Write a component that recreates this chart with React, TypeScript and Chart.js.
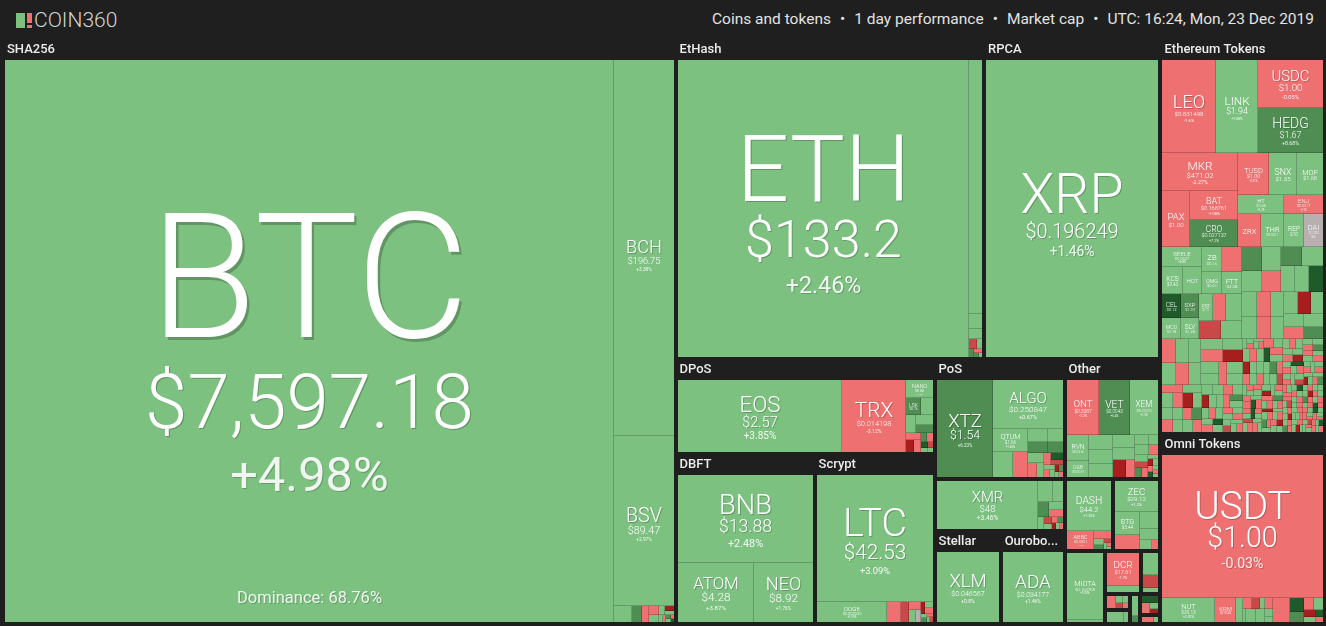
import React, { useEffect, useRef } from 'react';
import { Chart, registerables } from 'chart.js';

Chart.register(...registerables);

type Cell = [string, number, string, number];
type Rect = { x0: number; y0: number; x1: number; y1: number };
type Tree = string | Tree[];

const BG = '#1e1f1e';
const FONT = 'Roboto, "Open Sans", "DejaVu Sans", sans-serif';
const CANVAS_W = 1326;
const CANVAS_H = 587;
const TOP_H = 39;

const headerParts = ['Coins and tokens', '1 day performance', 'Market cap', 'UTC: 16:24, Mon, 23 Dec 2019'];
const btcDominance = 'Dominance: 68.76%';

// ---------- groups (algorithms / platforms) ----------
const groupNames = ['SHA256', 'EtHash', 'RPCA', 'Ethereum Tokens', 'Omni Tokens', 'DPoS', 'DBFT', 'Scrypt', 'PoS', 'Other', 'CryptoNight', 'Stellar', 'Ouroboros', 'X11', 'Equihash', 'Tangle', 'Blake256', 'Blake2b', 'Groestl', 'Keccak', 'NeoScrypt', 'Lyra2', 'X13'];
const groupSizes = [393412, 98720, 56480, 64895, 31337, 24605, 23630, 20400, 15600, 11520, 6760, 6138, 5952, 3492, 3420, 2920, 1548, 838, 400, 304, 184, 350, 427];

// ---------- coins: [symbol, size, price, 24h change %] ----------
const sha256Cells: Cell[] = [
  ['BTC', 342000, '$7,597.18', 4.98],
  ['BCH', 22300, '$196.75', 3.38],
  ['BSV', 10100, '$89.47', 2.97],
];
const sha256TinySizes = [300, 160, 120, 90, 70, 55, 45, 35, 28, 22, 18, 14, 10, 8];
const sha256TinyChanges = [2, 7, -3, -1, 1, 3, -11, 1, 2, -2, 6, 1, -4, 12];

const ethashCells: Cell[] = [
  ['ETH', 86700, '$133.2', 2.46],
  ['ETC', 3175, '$4.42', 1.5],
];
const ethashTinySizes = [190, 125, 75, 50, 40, 30, 20, 12];
const ethashTinyChanges = [1, 1, -9, 2, 6, -1, 8, 1];

const rpcaCells: Cell[] = [['XRP', 50600, '$0.196249', 1.46]];

const ethTokenCells: Cell[] = [
  ['LEO', 4836, '$0.831498', -1.6],
  ['LINK', 3813, '$1.94', 1.08],
  ['USDC', 3072, '$1.00', -0.05],
  ['HEDG', 2880, '$1.67', 8.68],
  ['MKR', 2775, '$471.02', -2.27],
  ['PAX', 1512, '$1.00', -0.12],
  ['BAT', 1334, '$0.168761', -1.08],
  ['CRO', 1265, '$0.027137', 7.2],
  ['TUSD', 1255, '$1.00', -0.21],
  ['SNX', 1176, '$1.35', 1.52],
  ['MOF', 1050, '$1.68', 0.52],
  ['HT', 855, '$3.68', 1.2],
  ['ZRX', 741, '$0.189324', -1.86],
  ['THR', 736, '$0.0211', 0.35],
  ['ENJ', 704, '$0.0317', -2.1],
  ['REP', 640, '$10', 0.9],
  ['DAI', 608, '$1.00', 0],
  ['SEELE', 770, '$0.0227', 0.8],
  ['KCS', 528, '$0.43', 0.6],
  ['HOT', 506, '$0.0006', 1.1],
  ['ZB', 504, '$0.16', 1.3],
  ['THETA', 483, '$0.087', -2.4],
  ['OMG', 450, '$0.61', 1.5],
  ['FTT', 425, '$2.28', 0.9],
  ['CEL', 432, '$0.12', 14.2],
  ['SXP', 408, '$1.34', 6.5],
  ['MCO', 374, '$3.18', 1.4],
  ['SLV', 357, '$1.28', 0.6],
  ['PST', 360, '$1.71', 2.1],
  ['EKT', 340, '$0.01', -3.4],
  ['', 405, '', 1.2],
  ['', 378, '', -8],
  ['', 378, '', 0.7],
];
const ethMidSizes = [470, 430, 420, 400, 390, 380, 370, 360, 350, 340, 330, 320, 310, 300, 290, 280, 270, 260, 250, 240, 230, 220];
const ethMidChanges = [6, 1, 2, -2, 7, 1, 1, 2, 12, 1, -1, 2, 1, -3, 1, 1, -12, 2, 1, -2, 1, 7];
const ethMosaicASizes = [330, 310, 290, 280, 270, 260, 250, 240, 230, 220, 210, 200, 190, 180, 170, 160];
const ethMosaicAChanges = [-2, 1, 1, 2, -1, 1, 1, -2, 1, -11, 1, 1, -2, 2, 1, -1];
const ethMosaicBSizes = [150, 145, 140, 135, 130, 125, 120, 118, 115, 112, 110, 108, 105, 102, 100, 98, 95, 92, 90, 88, 85, 82, 80, 78, 75, 72, 70, 68, 65, 62, 60, 58, 55, 52, 50, 48, 46, 44, 42, 40, 38, 36, 34, 32, 30];
const ethMosaicBChanges = [1, -2, 1, -11, 2, 1, 1, -1, 1, -2, 7, 1, -1, 1, 2, -12, 1, 1, -2, 1, -1, 6, 1, 1, -2, 1, 1, -1, 13, 1, -2, 1, 1, -1, 2, -7, 1, 1, -1, 1, 2, -2, 1, 1, -1];
const ethMosaicCSizes = [95, 93, 91, 90, 88, 86, 85, 83, 82, 80, 79, 78, 76, 75, 74, 72, 71, 70, 69, 68, 67, 66, 65, 64, 63, 62, 61, 60, 59, 58, 57, 56, 55, 54, 53, 52, 51, 50, 49, 48, 47, 46, 45, 44, 44, 43, 43, 42, 42, 41, 41, 40, 40, 39, 39, 38, 38, 37, 36, 35];
const ethMosaicCChanges = [1, -1, 2, -2, 1, 12, -1, 1, -12, 1, 2, -1, 1, -2, 1, 7, -1, 1, 1, -6, 1, -2, 1, 2, -1, 1, -11, 1, -2, 1, 6, -1, 1, 2, -2, 1, -1, 13, 1, -2, 1, -1, 2, 1, -8, 1, -1, 1, 2, -2, 1, -12, 1, 1, -1, 7, 1, -2, 1, -1];
const ethMosaicDSizes = [
  52, 51, 50, 49, 48, 47, 46, 46, 45, 45,
  44, 44, 43, 43, 42, 42, 41, 41, 40, 40,
  40, 39, 39, 39, 38, 38, 38, 37, 37, 37,
  36, 36, 36, 35, 35, 35, 35, 34, 34, 34,
  34, 33, 33, 33, 33, 32, 32, 32, 32, 31,
  31, 31, 31, 30, 30, 30, 30, 30, 29, 29,
  29, 29, 29, 28, 28, 28, 28, 28, 27, 27,
  27, 27, 27, 26, 26, 26, 26, 26, 25, 25,
  25, 25, 25, 24, 24, 24, 24, 24, 23, 23,
  23, 23, 23, 22, 22, 22, 22, 22, 21, 21,
  21, 21, 21, 20, 20, 20, 20, 20, 20, 20,
];
const ethMosaicDChanges = [
  1, -1, -2, 1, 12, -1, 1, -12, 2, -1,
  1, -2, 1, -1, 7, 1, -1, -2, 1, 13,
  -1, 1, -8, 1, -1, 2, -1, 1, -12, 1,
  -2, 1, 1, -1, 6, -1, 1, -2, -11, 1,
  1, -1, 2, -1, 1, 12, -2, 1, -1, 1,
  -7, 1, -1, 2, -1, 1, -2, 1, -12, 1,
  1, -1, 1, 8, -1, 1, -2, 1, -1, 13,
  -1, 1, -2, 1, -11, 1, -1, 2, 1, -1,
  1, -2, 7, -1, 1, -1, 1, -12, 1, -2,
  1, -1, 2, -1, 12, 1, -2, 1, -1, 1,
  -8, 1, -1, 1, -2, 1, 13, -1, 1, -1,
];

const omniCells: Cell[] = [
  ['USDT', 23030, '$1.00', -0.03],
  ['NUT', 1250, '$26.13', 2.02],
  ['KRM', 520, '$0.0028', -1.5],
];
const omniTinySizes = [150, 110, 80, 60, 40, 130, 110, 90, 60, 40, 400, 200, 150, 120, 100, 80, 60, 50, 40];
const omniTinyChanges = [1, -1, -8, 2, 1, 1, 2, -2, 1, 1, -1.5, 11, 8, -3, 1, -12, 2, 13, -1];

const dposCells: Cell[] = [
  ['EOS', 11844, '$2.57', 3.85],
  ['TRX', 4608, '$0.014198', -3.12],
  ['NANO', 486, '$0.88', 1.2],
  ['LSK', 240, '$0.76', 6.5],
];
const dposTinySizes = [200, 180, 160, 130, 110, 90, 80, 60, 50, 40, 30, 25, 20];
const dposTinyChanges = [1.5, 0.8, 2.1, 6.2, -1.4, -12, -2.3, 8, -1, 13, 2, -6, 1];

const dbftCells: Cell[] = [
  ['BNB', 11745, '$13.88', 2.48],
  ['ATOM', 4484, '$4.28', 3.87],
  ['NEO', 3422, '$8.92', 1.76],
];

const scryptCells: Cell[] = [
  ['LTC', 14616, '$42.53', 3.09],
  ['DOGE', 1400, '$0.002020', 1.09],
];
const scryptTinySizes = [280, 140, 100, 80, 60, 50, 45, 40, 30, 25, 20, 15, 10];
const scryptTinyChanges = [-1.5, -9, -2, 1, 0, -12, 2, -1, 1, 7, -2, 1, -6];

const posCells: Cell[] = [
  ['XTZ', 5380, '$1.54', 6.23],
  ['ALGO', 3381, '$0.250847', 0.67],
  ['QTUM', 805, '$1.66', 1.45],
  ['WAVES', 500, '$0.88', 0.9],
  ['VSYS', 375, '$0.032', -1.9],
];
const posTinySizes = [240, 220, 180, 170, 150, 120, 100, 80, 70, 60, 50, 40, 35, 30, 25, 20, 15];
const posTinyChanges = [1.2, 7, 0.5, 6, 1, -2, 2, -1.5, 12, -8, 3, -1, 1, -12, 7, 1, -3];

const otherCells: Cell[] = [
  ['ONT', 1674, '$0.3387', -1.2],
  ['VET', 1620, '$0.0043', 6.4],
  ['XEM', 1512, '$0.0333', 1.3],
  ['RVN', 572, '$0.0216', 1.9],
  ['DGB', 352, '$0.0044', 1.1],
];
const otherTinySizes = [340, 320, 300, 280, 260, 200, 150, 130, 120, 100, 90, 80, 70, 60, 50, 45, 40, 35, 30, 25, 20, 20, 15];
const otherTinyChanges = [0.7, 1.1, 0.9, 1.4, 0.6, -11, -3, 1, 0.8, 1, -2, 1, -6, 8, -1, 1, -12, 2, -2, 13, 1, -1, 2];

const cryptonightCells: Cell[] = [['XMR', 4800, '$48', 3.46]];
const cryptonightTinySizes = [300, 200, 170, 110, 90, 70, 50, 40, 35, 30, 25, 20, 15];
const cryptonightTinyChanges = [1, 0.8, 6, 1, -2, 2, -7, 1, -1, 9, -12, 1, -2];

const stellarCells: Cell[] = [['XLM', 4200, '$0.046567', 0.8]];
const ouroborosCells: Cell[] = [['ADA', 3900, '$0.034177', 1.46]];

const x11Cells: Cell[] = [
  ['DASH', 2200, '$44.2', 1.25],
  ['ABBC', 476, '$0.0951', -1.3],
];
const x11TinySizes = [130, 60, 40, 30, 20, 15, 10];
const x11TinyChanges = [-2, 1, 7, -9, 1, -1, 2];

const equihashCells: Cell[] = [
  ['ZEC', 1312, '$29.12', 1.2],
  ['BTG', 550, '$5.44', 0.9],
];
const equihashTinySizes = [352, 325, 200, 110, 60];
const equihashTinyChanges = [-1.6, 1.1, 0.5, 1.2, -2];

const tangleCells: Cell[] = [['MIOTA', 2400, '$0.163708', 1.03]];
const tangleTinySizes = [60];
const tangleTinyChanges = [1];

const blake256Cells: Cell[] = [['DCR', 1056, '$17.61', -1.7]];
const blake256TinySizes = [192];
const blake256TinyChanges = [0.8];

const blake2bTinySizes = [341, 200, 64];
const blake2bTinyChanges = [1.1, -7, 1];
const groestlTinySizes = [130, 60, 50, 40, 30];
const groestlTinyChanges = [-2.5, 1, -9, 1, -2];
const keccakTinySizes = [150, 50];
const keccakTinyChanges = [1, 6];
const neoscryptTinySizes = [80, 30];
const neoscryptTinyChanges = [-1.5, 1];
const lyra2TinySizes = [200, 50];
const lyra2TinyChanges = [1, 1];
const x13TinySizes = [40, 30, 20, 15];
const x13TinyChanges = [12, -1, 1, -11];

// ---------- tables built from the arrays above ----------
const groupCellLists: Cell[][] = [
  sha256Cells, ethashCells, rpcaCells, ethTokenCells, omniCells, dposCells, dbftCells, scryptCells,
  posCells, otherCells, cryptonightCells, stellarCells, ouroborosCells, x11Cells, equihashCells,
  tangleCells, blake256Cells, [], [], [], [], [], [],
];
const groupTinySizes: number[][] = [
  sha256TinySizes, ethashTinySizes, [],
  [...ethMidSizes, ...ethMosaicASizes, ...ethMosaicBSizes, ...ethMosaicCSizes, ...ethMosaicDSizes],
  omniTinySizes, dposTinySizes, [], scryptTinySizes, posTinySizes, otherTinySizes, cryptonightTinySizes,
  [], [], x11TinySizes, equihashTinySizes, tangleTinySizes, blake256TinySizes, blake2bTinySizes,
  groestlTinySizes, keccakTinySizes, neoscryptTinySizes, lyra2TinySizes, x13TinySizes,
];
const groupTinyChanges: number[][] = [
  sha256TinyChanges, ethashTinyChanges, [],
  [...ethMidChanges, ...ethMosaicAChanges, ...ethMosaicBChanges, ...ethMosaicCChanges, ...ethMosaicDChanges],
  omniTinyChanges, dposTinyChanges, [], scryptTinyChanges, posTinyChanges, otherTinyChanges, cryptonightTinyChanges,
  [], [], x11TinyChanges, equihashTinyChanges, tangleTinyChanges, blake256TinyChanges, blake2bTinyChanges,
  groestlTinyChanges, keccakTinyChanges, neoscryptTinyChanges, lyra2TinyChanges, x13TinyChanges,
];

// how the groups nest on the map
const miscBottom: Tree = ['Groestl', 'Lyra2', 'Keccak', 'X13', 'NeoScrypt'];
const miscRight: Tree = [['Blake256', 'Blake2b'], miscBottom];
const misc: Tree = ['Tangle', miscRight];
const bottomRightRight: Tree = [['X11', 'Equihash'], misc];
const bottomRightLeft: Tree = ['CryptoNight', ['Stellar', 'Ouroboros']];
const bottomRight: Tree = [['PoS', 'Other'], [bottomRightLeft, bottomRightRight]];
const bottomLeft: Tree = ['DPoS', ['DBFT', 'Scrypt']];
const middle: Tree = [['EtHash', 'RPCA'], [bottomLeft, bottomRight]];
const layoutTree: Tree = ['SHA256', [middle, ['Ethereum Tokens', 'Omni Tokens']]];

// ---------- layout helpers ----------
function binarySplit(values: number[], r: Rect): Rect[] {
  const n = values.length;
  const out: Rect[] = new Array(n);
  if (!n) return out;
  const sums = [0];
  for (let i = 0; i < n; i++) sums.push(sums[i] + values[i]);
  const part = (i: number, j: number, value: number, x0: number, y0: number, x1: number, y1: number) => {
    if (i >= j - 1) {
      out[i] = { x0, y0, x1, y1 };
      return;
    }
    const off = sums[i];
    const target = value / 2 + off;
    let k = i + 1;
    let hi = j - 1;
    while (k < hi) {
      const mid = (k + hi) >>> 1;
      if (sums[mid] < target) k = mid + 1;
      else hi = mid;
    }
    if (target - sums[k - 1] < sums[k] - target && i + 1 < k) --k;
    const vl = sums[k] - off;
    const vr = value - vl;
    if (x1 - x0 > y1 - y0) {
      const xk = value ? (x0 * vr + x1 * vl) / value : x1;
      part(i, k, vl, x0, y0, xk, y1);
      part(k, j, vr, xk, y0, x1, y1);
    } else {
      const yk = value ? (y0 * vr + y1 * vl) / value : y1;
      part(i, k, vl, x0, y0, x1, yk);
      part(k, j, vr, x0, yk, x1, y1);
    }
  };
  part(0, n, sums[n], r.x0, r.y0, r.x1, r.y1);
  return out;
}

function treeWeight(t: Tree): number {
  if (typeof t === 'string') return groupSizes[groupNames.indexOf(t)];
  return t.reduce((s: number, c) => s + treeWeight(c), 0);
}

function placeTree(t: Tree, r: Rect, out: { name: string; rect: Rect }[]) {
  if (typeof t === 'string') {
    out.push({ name: t, rect: r });
    return;
  }
  const rects = binarySplit(t.map(treeWeight), r);
  t.forEach((c, i) => placeTree(c, rects[i], out));
}

function colorFor(c: number): string {
  if (c === 0) return '#b8b0b0';
  if (c > 0) return c >= 10 ? '#1f5b2a' : c >= 5 ? '#4f8d52' : '#7dc181';
  return c <= -10 ? '#a61e1e' : c <= -5 ? '#c94949' : '#ee7070';
}

const fmtChange = (c: number) => (c > 0 ? '+' : '') + String(+c.toFixed(2)) + '%';

function drawLabel(ctx: CanvasRenderingContext2D, cell: Cell, X0: number, Y0: number, X1: number, Y1: number) {
  const [sym, , price, chg] = cell;
  if (!sym) return;
  const w = X1 - X0;
  const h = Y1 - Y0;
  const mw = (t: string, weight: number) => {
    ctx.font = `${weight} 100px ${FONT}`;
    return ctx.measureText(t).width / 100;
  };
  const fsS = Math.min(h * 0.31, (w * 0.6) / mw(sym, 300));
  if (fsS < 4.5) return;
  const chgText = fmtChange(chg);
  let fsP = price ? Math.min(h * 0.2, (w * 0.54) / mw(price, 300), fsS * 0.75) : 0;
  if (fsP < 3) fsP = 0;
  let fsC = fsP ? Math.min((w * 0.26) / mw(chgText, 400), fsP * 0.7) : 0;
  if (fsC < 2.5) fsC = 0;
  const capS = fsS * 0.71;
  const capP = fsP * 0.71;
  const capC = fsC * 0.71;
  const g1 = fsP ? fsS * 0.21 : 0;
  const g2 = fsC ? fsP * 0.37 : 0;
  const total = capS + g1 + capP + g2 + capC;
  const cx = (X0 + X1) / 2;
  let y = (Y0 + Y1) / 2 - total / 2 + h * 0.02;
  ctx.textAlign = 'center';
  ctx.textBaseline = 'alphabetic';
  const put = (t: string, fs: number, weight: number, color: string, base: number) => {
    ctx.font = `${weight} ${fs}px ${FONT}`;
    if (fs >= 12) {
      ctx.shadowColor = 'rgba(0,0,0,0.22)';
      ctx.shadowOffsetX = Math.max(1, fs / 70);
      ctx.shadowOffsetY = Math.max(1, fs / 70);
    } else {
      ctx.shadowColor = 'rgba(0,0,0,0)';
      ctx.shadowOffsetX = 0;
      ctx.shadowOffsetY = 0;
    }
    ctx.fillStyle = color;
    ctx.fillText(t, cx, base);
  };
  y += capS;
  put(sym, fsS, 300, '#ffffff', y);
  if (fsP) {
    y += g1 + capP;
    put(price, fsP, 300, '#ffffff', y);
  }
  if (fsC) {
    y += g2 + capC;
    put(chgText, fsC, 400, 'rgba(255,255,255,0.9)', y);
  }
  if (sym === 'BTC') put(btcDominance, 16.5, 400, 'rgba(255,255,255,0.88)', Y1 - 19);
  ctx.shadowColor = 'rgba(0,0,0,0)';
  ctx.shadowOffsetX = 0;
  ctx.shadowOffsetY = 0;
}

const treemapPlugin = {
  id: 'coinTreemap',
  beforeDraw(chart: any) {
    const ctx: CanvasRenderingContext2D = chart.ctx;
    ctx.save();
    ctx.fillStyle = BG;
    ctx.fillRect(0, 0, chart.width, chart.height);
    ctx.restore();
  },
  afterDatasetsDraw(chart: any) {
    const ctx: CanvasRenderingContext2D = chart.ctx;
    const xs = chart.scales.x;
    const ys = chart.scales.y;
    const px = (v: number) => xs.getPixelForValue(v);
    const py = (v: number) => ys.getPixelForValue(v);
    const placed: { name: string; rect: Rect }[] = [];
    placeTree(layoutTree, { x0: 3, y0: 0, x1: 1325, y1: 585 }, placed);
    ctx.save();
    for (const g of placed) {
      const idx = groupNames.indexOf(g.name);
      const cells = groupCellLists[idx];
      const tinyS = groupTinySizes[idx];
      const tinyC = groupTinyChanges[idx];
      const sizes = [...cells.map((c) => c[1]), ...tinyS];
      const changes = [...cells.map((c) => c[3]), ...tinyS.map((_, i) => (tinyC[i] === undefined ? 1 : tinyC[i]))];
      const o = g.rect;
      const header = o.y1 - o.y0 >= 80;
      const inner: Rect = { x0: o.x0 + 2, y0: o.y0 + 2 + (header ? 19 : 0), x1: o.x1 - 2, y1: o.y1 - 2 };
      const rects = binarySplit(sizes, inner);
      const boxes: number[][] = [];
      rects.forEach((r, i) => {
        const X0 = Math.round(px(r.x0));
        const X1 = Math.round(px(r.x1));
        const Y0 = Math.round(py(r.y0));
        const Y1 = Math.round(py(r.y1));
        boxes.push([X0, Y0, X1, Y1]);
        if (X1 <= X0 || Y1 <= Y0) return;
        ctx.fillStyle = colorFor(changes[i]);
        ctx.fillRect(X0, Y0, X1 - X0, Y1 - Y0);
        ctx.fillStyle = 'rgba(0,0,0,0.2)';
        if (r.x1 < inner.x1 - 0.01 && X1 - X0 > 1) ctx.fillRect(X1 - 1, Y0, 1, Y1 - Y0);
        if (r.y1 < inner.y1 - 0.01 && Y1 - Y0 > 1) ctx.fillRect(X0, Y1 - 1, X1 - X0, 1);
      });
      cells.forEach((c, i) => {
        const b = boxes[i];
        if (b) drawLabel(ctx, c, b[0], b[1], b[2], b[3]);
      });
      if (header) {
        ctx.font = `500 13px ${FONT}`;
        ctx.textAlign = 'left';
        ctx.textBaseline = 'alphabetic';
        ctx.fillStyle = '#ececec';
        const avail = px(inner.x1) - px(inner.x0) - 4;
        let label = g.name;
        if (ctx.measureText(label).width > avail) {
          while (label.length > 1 && ctx.measureText(label + '...').width > avail) label = label.slice(0, -1);
          label += '...';
        }
        ctx.fillText(label, px(inner.x0) + 2, py(o.y0 + 14));
      }
    }
    ctx.restore();
  },
};

export default function App() {
  const ref = useRef<HTMLCanvasElement>(null);
  useEffect(() => {
    document.body.style.margin = '0';
    document.body.style.background = BG;
    const canvas = ref.current;
    if (!canvas) return;
    const chart = new Chart(canvas, {
      type: 'scatter',
      data: { datasets: [{ data: [], pointRadius: 0 }] },
      options: {
        animation: false,
        responsive: false,
        events: [],
        layout: { padding: 0 },
        plugins: { legend: { display: false }, tooltip: { enabled: false } },
        scales: {
          x: { type: 'linear', min: 0, max: CANVAS_W, display: false },
          y: { type: 'linear', min: 0, max: CANVAS_H, reverse: true, display: false },
        },
      },
      plugins: [treemapPlugin],
    } as any);
    return () => chart.destroy();
  }, []);
  return (
    <div style={{ width: 1326, height: 626, background: BG, position: 'relative', overflow: 'hidden', fontFamily: FONT }}>
      <div style={{ position: 'relative', height: TOP_H, width: 1326 }}>
        <div style={{ position: 'absolute', left: 16, top: 13, width: 9, height: 15, background: '#7dc181' }} />
        <div style={{ position: 'absolute', left: 27, top: 13, width: 5, height: 10, background: '#ee7070' }} />
        <div style={{ position: 'absolute', left: 27, top: 25, width: 5, height: 3, background: '#ee7070' }} />
        <span style={{ position: 'absolute', left: 34, top: 10, fontSize: 21, lineHeight: '21px', fontWeight: 300, color: '#d4d4d4', whiteSpace: 'nowrap' }}>COIN360</span>
        <span style={{ position: 'absolute', right: 12, top: 11, fontSize: 15.5, lineHeight: '16px', fontWeight: 400, color: '#e3e3e3', whiteSpace: 'nowrap' }}>
          {headerParts.map((p, i) => (
            <React.Fragment key={i}>
              {i > 0 && <span style={{ margin: '0 9px' }}>{'\u2022'}</span>}
              {p}
            </React.Fragment>
          ))}
        </span>
      </div>
      <canvas ref={ref} width={CANVAS_W} height={CANVAS_H} style={{ display: 'block', width: CANVAS_W, height: CANVAS_H }} />
    </div>
  );
}
